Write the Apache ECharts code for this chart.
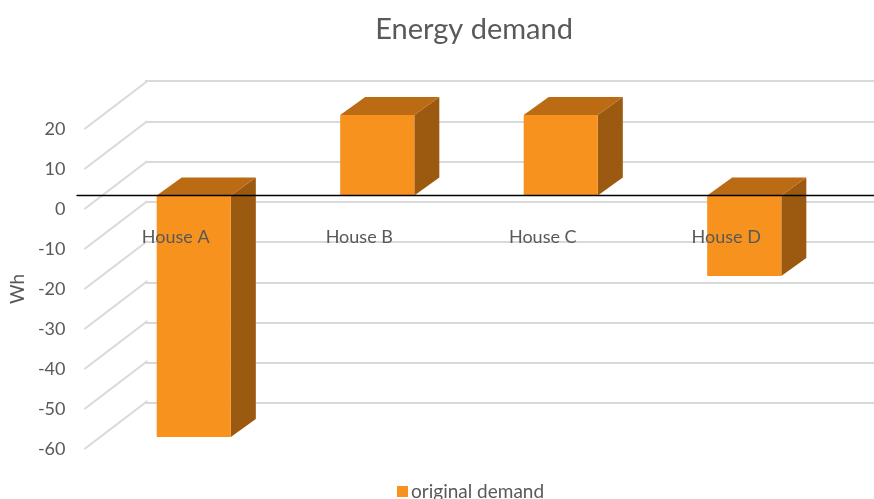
<!DOCTYPE html>
<html>
<head>
<meta charset="utf-8">
<script src="https://cdn.jsdelivr.net/npm/echarts@6/dist/echarts.min.js"></script>
<style>html,body{margin:0;padding:0;background:#fff}#c{width:874px;height:499px}</style>
</head>
<body>
<div id="c"></div>
<script>
const categories = ['House A', 'House B', 'House C', 'House D'];
const demand = [-60, 20, 20, -20];
const tickValues = [20, 10, 0, -10, -20, -30, -40, -50, -60];
const seriesName = 'original demand';
const titleText = 'Energy demand';
const axisName = 'Wh';

const FONT = 'Lato';
const TXT = '#595959';
const GRIDC = '#d9d9d9';
const FRONT = '#F7921E';
const TOPC = '#BA6B14';
const SIDEC = '#9C5A10';
const DX = 25, DY = -18;        // bar depth
const WX = 63, WY = -48;        // side wall depth

const chart = echarts.init(document.getElementById('c'), null, {renderer: 'canvas'});
const yBase = {type: 'value', min: -60, max: 20, interval: 10};

chart.setOption({
  animation: false,
  title: {text: titleText, left: 469, top: 10, textAlign: 'center',
    textStyle: {fontFamily: FONT, fontSize: 29, fontWeight: 'normal', color: TXT}},
  legend: {left: 392, top: 477, itemWidth: 11, itemHeight: 11, itemGap: 10,
    data: [{name: seriesName, icon: 'rect', itemStyle: {color: FRONT}}],
    textStyle: {fontFamily: FONT, fontSize: 19, color: TXT, padding: [0,0,0,-2]}},
  grid: [
    {left: 145, right: 0, top: 81, bottom: 96},   // back wall
    {left: 82, right: 0, top: 129, bottom: 50},   // front plane (labels)
    {left: 102, right: 38, top: 115, bottom: 62}, // bars
    {left: 77, right: 0, top: 115, bottom: 62},   // zero line
    {left: 84, right: 56, top: 100, bottom: 274}  // category labels
  ],
  xAxis: [
    {gridIndex: 0, type: 'value', min: 0, max: 1, show: false},
    {gridIndex: 1, type: 'value', min: 0, max: 1, show: false},
    {gridIndex: 2, type: 'category', data: categories, show: false},
    {gridIndex: 3, type: 'value', min: 0, max: 1, z: 10,
      axisLine: {show: true, onZero: true, lineStyle: {color: '#000', width: 1.3}},
      axisTick: {show: false}, axisLabel: {show: false}, splitLine: {show: false}},
    {gridIndex: 4, type: 'category', data: categories, z: 10,
      axisLine: {show: false}, axisTick: {show: false},
      axisLabel: {fontFamily: FONT, fontSize: 18, color: TXT, margin: 3}}
  ],
  yAxis: [
    Object.assign({gridIndex: 0, axisLabel: {show: false}, axisLine: {show: false}, axisTick: {show: false},
      splitLine: {show: true, lineStyle: {color: GRIDC, width: 2}}}, yBase),
    Object.assign({gridIndex: 1, axisLine: {show: false}, axisTick: {show: false}, splitLine: {show: false},
      axisLabel: {fontFamily: FONT, fontSize: 18, color: TXT, margin: 19},
      name: axisName, nameLocation: 'middle', nameGap: 56, nameRotate: 90,
      nameTextStyle: {fontFamily: FONT, fontSize: 19, color: TXT}}, yBase),
    Object.assign({gridIndex: 2, show: false}, yBase),
    Object.assign({gridIndex: 3, show: false}, yBase),
    {gridIndex: 4, type: 'value', show: false}
  ],
  series: [
    {
      type: 'custom', name: 'wall', xAxisIndex: 1, yAxisIndex: 1, silent: true, z: 1,
      data: tickValues.map(v => [0, v]),
      renderItem(params, api) {
        const p = api.coord([0, api.value(1)]);
        return {type: 'line', shape: {x1: p[0], y1: p[1], x2: p[0] + WX, y2: p[1] + WY},
          style: {stroke: GRIDC, lineWidth: 2}};
      }
    },
    {
      type: 'custom', name: seriesName, xAxisIndex: 2, yAxisIndex: 2, z: 5,
      itemStyle: {color: FRONT},
      data: demand.map((v, i) => [i, v]),
      renderItem(params, api) {
        const cat = api.value(0), v = api.value(1);
        const pT = api.coord([cat, Math.max(0, v)]);
        const pB = api.coord([cat, Math.min(0, v)]);
        const w = api.size([1, 0])[0] * 0.404;
        const x0 = pT[0] - w / 2, x1 = pT[0] + w / 2, yT = pT[1], yB = pB[1];
        return {type: 'group', children: [
          {type: 'polygon', shape: {points: [[x1, yT], [x1 + DX, yT + DY], [x1 + DX, yB + DY], [x1, yB]]},
            style: {fill: SIDEC}},
          {type: 'polygon', shape: {points: [[x0, yT], [x0 + DX, yT + DY], [x1 + DX, yT + DY], [x1, yT]]},
            style: {fill: TOPC}},
          {type: 'rect', shape: {x: x0, y: yT, width: w, height: yB - yT}, style: {fill: FRONT}}
        ]};
      }
    }
  ]
});
</script>
</body>
</html>
